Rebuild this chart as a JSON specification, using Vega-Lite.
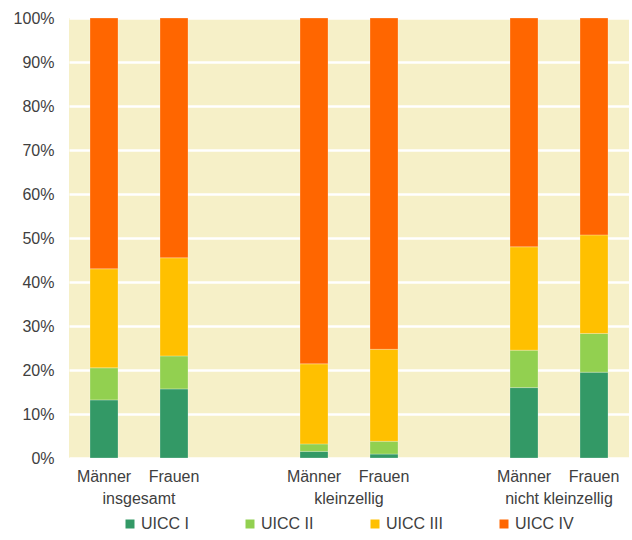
{
  "$schema": "https://vega.github.io/schema/vega-lite/v6.json",
  "autosize": "none",
  "width": 560,
  "height": 440,
  "padding": {"left": 69, "top": 18, "right": 3, "bottom": 82},
  "background": "white",
  "config": {
    "view": {"fill": "#F6F0C8", "stroke": null},
    "font": "Liberation Sans",
    "axis": {"labelFont": "Liberation Sans", "labelFontSize": 16, "labelColor": "#404040", "titleFontSize": 16},
    "legend": {"labelFont": "Liberation Sans", "labelFontSize": 16, "labelColor": "#404040"}
  },
  "data": {
    "values": [
      {"group": "insgesamt", "sex": "Männer", "stage": "UICC I", "value": 13.2},
      {"group": "insgesamt", "sex": "Männer", "stage": "UICC II", "value": 7.3},
      {"group": "insgesamt", "sex": "Männer", "stage": "UICC III", "value": 22.5},
      {"group": "insgesamt", "sex": "Männer", "stage": "UICC IV", "value": 57.0},
      {"group": "insgesamt", "sex": "Frauen", "stage": "UICC I", "value": 15.7},
      {"group": "insgesamt", "sex": "Frauen", "stage": "UICC II", "value": 7.5},
      {"group": "insgesamt", "sex": "Frauen", "stage": "UICC III", "value": 22.3},
      {"group": "insgesamt", "sex": "Frauen", "stage": "UICC IV", "value": 54.5},
      {"group": "kleinzellig", "sex": "Männer", "stage": "UICC I", "value": 1.5},
      {"group": "kleinzellig", "sex": "Männer", "stage": "UICC II", "value": 1.7},
      {"group": "kleinzellig", "sex": "Männer", "stage": "UICC III", "value": 18.2},
      {"group": "kleinzellig", "sex": "Männer", "stage": "UICC IV", "value": 78.6},
      {"group": "kleinzellig", "sex": "Frauen", "stage": "UICC I", "value": 0.9},
      {"group": "kleinzellig", "sex": "Frauen", "stage": "UICC II", "value": 2.9},
      {"group": "kleinzellig", "sex": "Frauen", "stage": "UICC III", "value": 20.9},
      {"group": "kleinzellig", "sex": "Frauen", "stage": "UICC IV", "value": 75.3},
      {"group": "nicht kleinzellig", "sex": "Männer", "stage": "UICC I", "value": 16.0},
      {"group": "nicht kleinzellig", "sex": "Männer", "stage": "UICC II", "value": 8.5},
      {"group": "nicht kleinzellig", "sex": "Männer", "stage": "UICC III", "value": 23.5},
      {"group": "nicht kleinzellig", "sex": "Männer", "stage": "UICC IV", "value": 52.0},
      {"group": "nicht kleinzellig", "sex": "Frauen", "stage": "UICC I", "value": 19.5},
      {"group": "nicht kleinzellig", "sex": "Frauen", "stage": "UICC II", "value": 8.8},
      {"group": "nicht kleinzellig", "sex": "Frauen", "stage": "UICC III", "value": 22.4},
      {"group": "nicht kleinzellig", "sex": "Frauen", "stage": "UICC IV", "value": 49.3}
    ]
  },
  "layer": [
    {
      "mark": {"type": "bar", "stroke": "#ffffff", "strokeWidth": 0.5, "strokeOpacity": 0.5},
      "encoding": {
        "x": {
          "field": "group", "type": "nominal",
          "scale": {"paddingInner": 0.3333333, "paddingOuter": 0},
          "axis": {"title": null, "ticks": false, "domain": false, "labelPadding": 32, "labelAngle": 0}
        },
        "xOffset": {
          "field": "sex", "type": "nominal",
          "scale": {"domain": ["Männer", "Frauen"], "paddingInner": 0.6, "paddingOuter": 0.3}
        },
        "y": {
          "field": "value", "type": "quantitative", "stack": "normalize",
          "scale": {"domain": [0, 1]},
          "axis": {"title": null, "format": ".0%", "values": [0,0.1,0.2,0.3,0.4,0.5,0.6,0.7,0.8,0.9,1], "labelOverlap": false, "ticks": false, "domain": false, "labelPadding": 15, "grid": true, "gridColor": "white", "gridWidth": 2.5, "gridOpacity": 1}
        },
        "color": {
          "field": "stage", "type": "nominal",
          "scale": {"domain": ["UICC I", "UICC II", "UICC III", "UICC IV"], "range": ["#339966", "#92D050", "#FFC000", "#FF6600"]},
          "legend": {"title": null, "orient": "none", "direction": "horizontal", "legendX": 53, "legendY": 498, "symbolType": "square", "symbolSize": 81, "symbolStrokeWidth": 0, "columnPadding": 53, "labelOffset": 3}
        },
        "order": {"field": "stage", "sort": "ascending"}
      }
    },
    {
      "transform": [{"filter": "datum.stage == 'UICC I'"}],
      "mark": {"type": "text", "baseline": "middle", "dy": 19, "fontSize": 16, "font": "Liberation Sans", "color": "#404040", "clip": false},
      "encoding": {
        "x": {"field": "group", "type": "nominal"},
        "xOffset": {"field": "sex", "type": "nominal"},
        "y": {"datum": 0},
        "text": {"field": "sex"}
      }
    }
  ]
}
